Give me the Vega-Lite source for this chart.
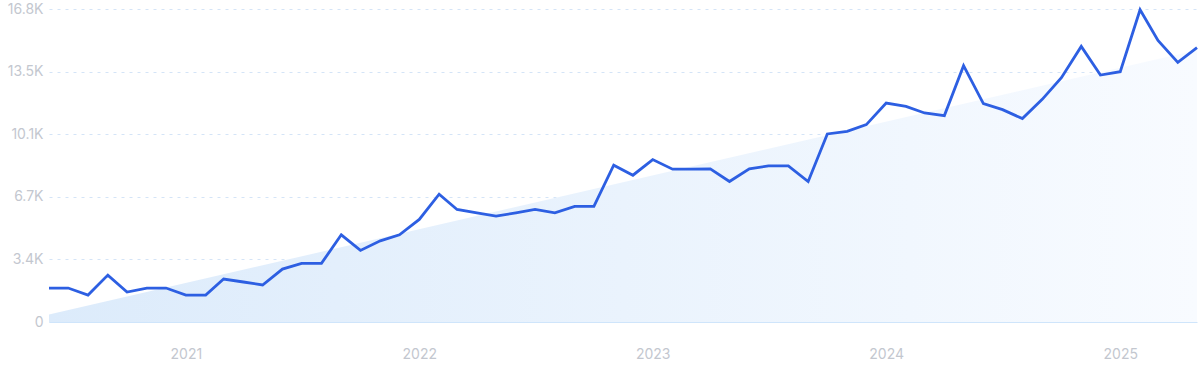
{
  "$schema": "https://vega.github.io/schema/vega-lite/v6.json",
  "width": 1148,
  "height": 313,
  "autosize": "none",
  "padding": {"left": 49, "top": 9, "right": 3, "bottom": 49},
  "background": "#ffffff",
  "config": {"view": {"stroke": null}, "font": "Inter"},
  "data": {"values": [
    {"date": "2020-06-01", "value": 1825},
    {"date": "2020-07-01", "value": 1825},
    {"date": "2020-08-01", "value": 1450},
    {"date": "2020-09-01", "value": 2520},
    {"date": "2020-10-01", "value": 1610},
    {"date": "2020-11-01", "value": 1825},
    {"date": "2020-12-01", "value": 1825},
    {"date": "2021-01-01", "value": 1450},
    {"date": "2021-02-01", "value": 1450},
    {"date": "2021-03-01", "value": 2310},
    {"date": "2021-04-01", "value": 2150},
    {"date": "2021-05-01", "value": 1990},
    {"date": "2021-06-01", "value": 2845},
    {"date": "2021-07-01", "value": 3150},
    {"date": "2021-08-01", "value": 3150},
    {"date": "2021-09-01", "value": 4686},
    {"date": "2021-10-01", "value": 3849},
    {"date": "2021-11-01", "value": 4364},
    {"date": "2021-12-01", "value": 4686},
    {"date": "2022-01-01", "value": 5513},
    {"date": "2022-02-01", "value": 6871},
    {"date": "2022-03-01", "value": 6049},
    {"date": "2022-04-01", "value": 5867},
    {"date": "2022-05-01", "value": 5690},
    {"date": "2022-06-01", "value": 5867},
    {"date": "2022-07-01", "value": 6049},
    {"date": "2022-08-01", "value": 5867},
    {"date": "2022-09-01", "value": 6210},
    {"date": "2022-10-01", "value": 6210},
    {"date": "2022-11-01", "value": 8427},
    {"date": "2022-12-01", "value": 7890},
    {"date": "2023-01-01", "value": 8733},
    {"date": "2023-02-01", "value": 8213},
    {"date": "2023-03-01", "value": 8220},
    {"date": "2023-04-01", "value": 8229},
    {"date": "2023-05-01", "value": 7552},
    {"date": "2023-06-01", "value": 8229},
    {"date": "2023-07-01", "value": 8390},
    {"date": "2023-08-01", "value": 8390},
    {"date": "2023-09-01", "value": 7552},
    {"date": "2023-10-01", "value": 10107},
    {"date": "2023-11-01", "value": 10252},
    {"date": "2023-12-01", "value": 10612},
    {"date": "2024-01-01", "value": 11771},
    {"date": "2024-02-01", "value": 11594},
    {"date": "2024-03-01", "value": 11235},
    {"date": "2024-04-01", "value": 11095},
    {"date": "2024-05-01", "value": 13779},
    {"date": "2024-06-01", "value": 11739},
    {"date": "2024-07-01", "value": 11417},
    {"date": "2024-08-01", "value": 10934},
    {"date": "2024-09-01", "value": 11970},
    {"date": "2024-10-01", "value": 13135},
    {"date": "2024-11-01", "value": 14815},
    {"date": "2024-12-01", "value": 13274},
    {"date": "2025-01-01", "value": 13457},
    {"date": "2025-02-01", "value": 16785},
    {"date": "2025-03-01", "value": 15137},
    {"date": "2025-04-01", "value": 13956},
    {"date": "2025-05-01", "value": 14745}
  ]},
  "encoding": {
    "x": {
      "field": "date",
      "type": "temporal",
      "scale": {"type": "utc", "domain": [{"year": 2020, "month": 6, "date": 1, "utc": true}, {"year": 2025, "month": 5, "date": 1, "utc": true}]},
      "axis": {
        "title": null,
        "values": [
          {"year": 2021, "month": 1, "date": 1, "utc": true},
          {"year": 2022, "month": 1, "date": 1, "utc": true},
          {"year": 2023, "month": 1, "date": 1, "utc": true},
          {"year": 2024, "month": 1, "date": 1, "utc": true},
          {"year": 2025, "month": 1, "date": 1, "utc": true}
        ],
        "format": "%Y",
        "formatType": "utc",
        "grid": false,
        "ticks": false,
        "domain": true,
        "domainColor": "#cfe5fb",
        "domainWidth": 1,
        "labelColor": "#c3c7cf",
        "labelFont": "Inter",
        "labelFontSize": 14,
        "labelPadding": 25,
        "zindex": 1
      }
    },
    "y": {
      "field": "value",
      "type": "quantitative",
      "scale": {"domain": [0, 16825], "nice": false, "zero": true},
      "axis": {
        "title": null,
        "values": [0, 3365, 6730, 10095, 13460, 16825],
        "labelExpr": "datum.value == 0 ? '0' : format(datum.value / 1000, '.1f') + 'K'",
        "grid": true,
        "gridColor": "#d4e4f7",
        "gridDash": [3, 5],
        "gridWidth": 1,
        "ticks": false,
        "domain": false,
        "labelColor": "#c3c7cf",
        "labelFont": "Inter",
        "labelFontSize": 14,
        "labelPadding": 6
      }
    }
  },
  "layer": [
    {
      "transform": [{"regression": "value", "on": "date", "method": "linear"}],
      "mark": {
        "type": "area",
        "fill": {
          "gradient": "linear",
          "x1": 0, "y1": 0.5, "x2": 1, "y2": 0.5,
          "stops": [
            {"offset": 0, "color": "#dcebfb"},
            {"offset": 1, "color": "#f8fbff"}
          ]
        }
      }
    },
    {
      "mark": {"type": "line", "color": "#2d5fe2", "strokeWidth": 2.8, "strokeJoin": "miter", "interpolate": "linear"}
    }
  ]
}
